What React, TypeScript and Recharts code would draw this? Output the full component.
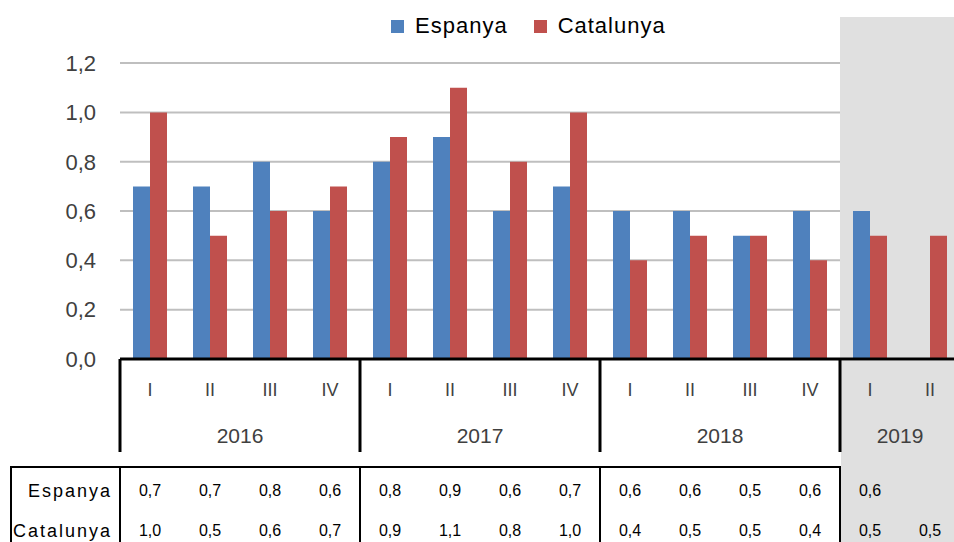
import React from 'react';
import { BarChart, Bar, XAxis, YAxis, CartesianGrid, Legend, ReferenceArea } from 'recharts';

const years = ['2016', '2016', '2016', '2016', '2017', '2017', '2017', '2017', '2018', '2018', '2018', '2018', '2019', '2019'];
const quarters = ['I', 'II', 'III', 'IV', 'I', 'II', 'III', 'IV', 'I', 'II', 'III', 'IV', 'I', 'II'];
const espanya: (number | null)[] = [0.7, 0.7, 0.8, 0.6, 0.8, 0.9, 0.6, 0.7, 0.6, 0.6, 0.5, 0.6, 0.6, null];
const catalunya: (number | null)[] = [1.0, 0.5, 0.6, 0.7, 0.9, 1.1, 0.8, 1.0, 0.4, 0.5, 0.5, 0.4, 0.5, 0.5];
const yTicks = [0, 0.2, 0.4, 0.6, 0.8, 1.0, 1.2];
const seriesOrder = ['Espanya', 'Catalunya'];
const shadedYear = '2019';

const data = years.map((y, i) => ({
  key: `${y}-${quarters[i]}`,
  year: y,
  quarter: quarters[i],
  Espanya: espanya[i],
  Catalunya: catalunya[i],
}));

const FONT = '"Liberation Sans", Arial, sans-serif';
const BLUE = '#4f81bd';
const RED = '#c0504d';
const GRAY = '#e0e0e0';
const TEXT = '#404040';

const fmt = (v: number | null | undefined) => (v == null ? '' : v.toFixed(1).replace('.', ','));

const shadedKeys = data.filter((d) => d.year === shadedYear).map((d) => d.key);

const XTick = (props: any) => {
  const { x, y, payload, index } = props;
  const half: number = payload && payload.offset ? payload.offset : 30;
  const d = data[index];
  if (!d) return null;
  const top = y;
  const yearIdx = data.filter((e) => e.year === d.year);
  const firstOfYear = index === 0 || data[index - 1].year !== d.year;
  const shaded = d.year === shadedYear;
  const left = x - half;
  const els: React.ReactNode[] = [];
  if (shaded && firstOfYear) {
    els.push(
      <rect key="bg" x={left + 1} y={top + 2} width={yearIdx.length * 2 * half + 20} height={200} fill={GRAY} />
    );
  }
  els.push(
    <text key="q" x={x} y={top + 32} textAnchor="middle" dominantBaseline="middle" fontSize={18} fill={TEXT} fontFamily={FONT}>
      {d.quarter}
    </text>
  );
  if (firstOfYear) {
    els.push(<line key="sep" x1={left} x2={left} y1={top} y2={top + 93} stroke="#000" strokeWidth={3} />);
    els.push(
      <text key="yr" x={left + yearIdx.length * half} y={top + 78} textAnchor="middle" dominantBaseline="middle" fontSize={21} fill={TEXT} fontFamily={FONT}>
        {d.year}
      </text>
    );
    els.push(<line key="tsep" x1={left} x2={left} y1={top + 108} y2={top + 220} stroke="#000" strokeWidth={2} />);
  }
  if (!shaded) {
    els.push(<line key="tt" x1={left - 1} x2={left + 2 * half + 1} y1={top + 108} y2={top + 108} stroke="#000" strokeWidth={2} />);
  }
  if (index === 0) {
    els.push(<line key="tl" x1={11} x2={left} y1={top + 108} y2={top + 108} stroke="#000" strokeWidth={2} />);
    els.push(<line key="tlb" x1={11} x2={11} y1={top + 107} y2={top + 220} stroke="#000" strokeWidth={2} />);
    els.push(
      <text key="r1" x={left - 8} y={top + 133} textAnchor="end" dominantBaseline="middle" fontSize={18} letterSpacing={2} fill="#000" fontFamily={FONT}>
        Espanya
      </text>
    );
    els.push(
      <text key="r2" x={left - 8} y={top + 173} textAnchor="end" dominantBaseline="middle" fontSize={18} letterSpacing={2} fill="#000" fontFamily={FONT}>
        Catalunya
      </text>
    );
  }
  els.push(
    <text key="v1" x={x} y={top + 133} textAnchor="middle" dominantBaseline="middle" fontSize={16} fill="#000" fontFamily={FONT}>
      {fmt(d.Espanya)}
    </text>
  );
  els.push(
    <text key="v2" x={x} y={top + 173} textAnchor="middle" dominantBaseline="middle" fontSize={16} fill="#000" fontFamily={FONT}>
      {fmt(d.Catalunya)}
    </text>
  );
  return <g>{els}</g>;
};

const LegendContent = (props: any) => {
  const items = [...(props.payload || [])].sort(
    (a: any, b: any) => seriesOrder.indexOf(a.value) - seriesOrder.indexOf(b.value)
  );
  return (
    <div style={{ display: 'flex', alignItems: 'center', fontFamily: FONT, fontSize: 22, letterSpacing: 1, color: '#000' }}>
      {items.map((it: any, i: number) => (
        <div key={i} style={{ display: 'flex', alignItems: 'center', marginRight: i === 0 ? 26 : 0 }}>
          <span style={{ display: 'inline-block', width: 13, height: 13, background: it.color, marginRight: 11 }} />
          <span>{it.value}</span>
        </div>
      ))}
    </div>
  );
};

export default function App() {
  return (
    <div style={{ position: 'absolute', left: 0, top: 0, width: 954, height: 542, overflow: 'hidden', background: '#fff' }}>
      <BarChart
        width={960}
        height={542}
        data={data}
        margin={{ top: 17, right: 0, left: 0, bottom: 0 }}
        barCategoryGap="21.67%"
        barGap={0}
      >
        <ReferenceArea x1={shadedKeys[0]} x2={shadedKeys[shadedKeys.length - 1]} fill={GRAY} fillOpacity={1} stroke="none" ifOverflow="visible" />
        <CartesianGrid vertical={false} horizontalValues={yTicks.filter((v) => v > 0)} stroke="#bfbfbf" strokeWidth={2} />
        <YAxis
          width={120}
          domain={[0, 1.387]}
          ticks={yTicks}
          axisLine={false}
          tickLine={false}
          tickSize={0}
          tickMargin={24}
          tickFormatter={(v: number) => v.toFixed(1).replace('.', ',')}
          tick={{ fontSize: 22, fill: TEXT, fontFamily: FONT }}
        />
        <XAxis
          dataKey="key"
          height={183}
          interval={0}
          tickSize={0}
          tickMargin={0}
          axisLine={{ stroke: '#000', strokeWidth: 3 }}
          tickLine={false}
          tick={(p: any) => <XTick {...p} />}
        />
        <Legend
          layout="horizontal"
          verticalAlign="middle"
          align="center"
          itemSorter={null as any}
          wrapperStyle={{ position: 'absolute', top: 13, left: 391, width: 'auto' }}
          content={(p: any) => <LegendContent {...p} />}
        />
        <Bar dataKey="Espanya" fill={BLUE} isAnimationActive={false} />
        <Bar dataKey="Catalunya" fill={RED} isAnimationActive={false} />
      </BarChart>
    </div>
  );
}
